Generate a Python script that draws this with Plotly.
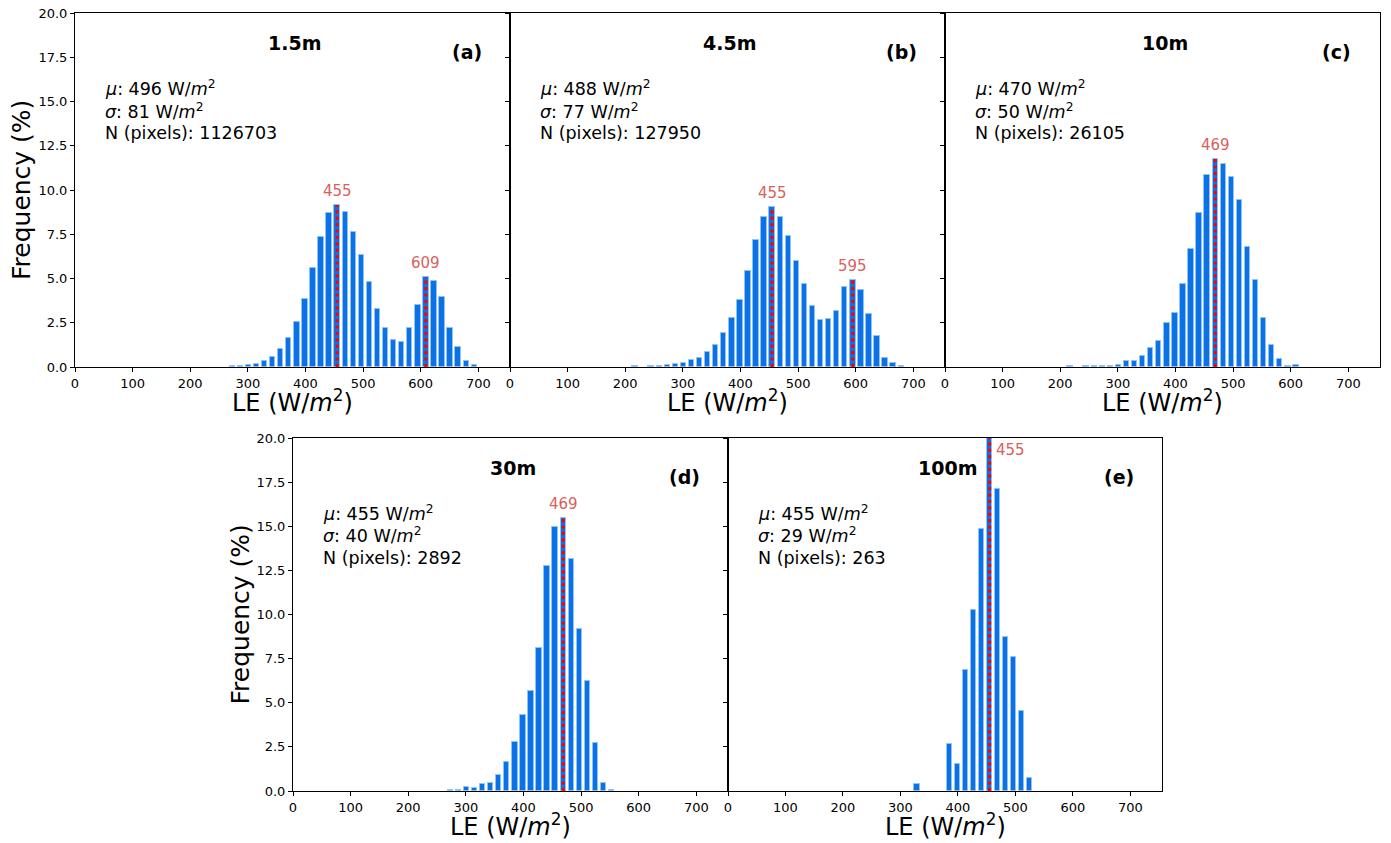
import plotly.graph_objects as go

# Histogram bins: 14 W/m2 wide, centred on 7 + 14k
centers_a = [273, 287, 301, 315, 329, 343, 357, 371, 385, 399, 413, 427, 441, 455, 469, 483,
             497, 511, 525, 539, 553, 567, 581, 595, 609, 623, 637, 651, 665, 679, 693]
freq_a = [0.03, 0.05, 0.10, 0.17, 0.32, 0.58, 1.00, 1.66, 2.52, 3.82, 5.61, 7.36, 8.70, 9.15, 8.78, 7.63,
          6.33, 4.80, 3.30, 2.19, 1.54, 1.43, 2.22, 3.48, 5.08, 4.86, 3.95, 2.22, 1.13, 0.34, 0.11]

centers_b = [217, 245, 259, 273, 287, 301, 315, 329, 343, 357, 371, 385, 399, 413, 427, 441, 455, 469,
             483, 497, 511, 525, 539, 553, 567, 581, 595, 609, 623, 637, 651, 665, 679]
freq_b = [0.03, 0.07, 0.05, 0.10, 0.15, 0.20, 0.38, 0.53, 0.87, 1.27, 1.94, 2.79, 3.76, 5.40, 7.18, 8.45, 9.02, 8.45,
          7.40, 5.99, 4.67, 3.46, 2.66, 2.69, 3.16, 4.53, 4.90, 4.37, 3.01, 1.77, 0.49, 0.25, 0.04]

centers_c = [217, 245, 259, 273, 287, 301, 315, 329, 343, 357, 371, 385, 399, 413, 427, 441, 455, 469,
             483, 497, 511, 525, 539, 553, 567, 581, 595, 609]
freq_c = [0.08, 0.05, 0.06, 0.07, 0.08, 0.10, 0.36, 0.36, 0.62, 1.07, 1.47, 2.50, 3.03, 4.67, 6.69, 8.70, 10.85, 11.77,
          11.45, 10.72, 9.42, 6.80, 4.90, 2.75, 1.22, 0.43, 0.06, 0.13]

centers_d = [273, 287, 301, 315, 329, 343, 357, 371, 385, 399, 413, 427, 441, 455, 469, 483, 497, 511, 525, 539, 553]
freq_d = [0.07, 0.03, 0.21, 0.17, 0.38, 0.48, 0.93, 1.63, 2.77, 4.32, 5.67, 8.09, 12.76, 14.97, 15.49, 13.14,
          9.20, 6.26, 2.70, 0.45, 0.07]

centers_e = [329, 385, 399, 413, 427, 441, 455, 469, 483, 497, 511, 525]
freq_e = [0.38, 2.66, 1.52, 6.84, 10.27, 14.83, 24.71, 17.11, 8.75, 7.60, 4.56, 0.76]

heights = ["1.5m", "4.5m", "10m", "30m", "100m"]
letters = ["(a)", "(b)", "(c)", "(d)", "(e)"]
mu = [496, 488, 470, 455, 455]
sigma = [81, 77, 50, 40, 29]
n_pixels = [1126703, 127950, 26105, 2892, 263]
peaks = [[455, 609], [455, 595], [469], [469], [455]]

y_ticks = [0, 2.5, 5, 7.5, 10, 12.5, 15, 17.5, 20]
x_ticks = [0, 100, 200, 300, 400, 500, 600, 700]

centers = [centers_a, centers_b, centers_c, centers_d, centers_e]
freqs = [freq_a, freq_b, freq_c, freq_d, freq_e]

W, H = 1391, 843
# panel boxes in pixels: left, right, top, bottom
boxes = [(75, 510, 13, 367), (510, 945, 13, 367), (945, 1380, 13, 367),
         (293, 728, 438, 791), (728, 1162, 438, 791)]

BAR = "#0a72e6"
EDGE = "#8fc2f5"
PEAK_TXT = "#d9605c"
FONT = "DejaVu Sans"

fig = go.Figure()
layout = {}
annotations = []

for i in range(5):
    sfx = "" if i == 0 else str(i + 1)
    xa, ya = "x" + sfx, "y" + sfx
    fig.add_trace(go.Bar(x=centers[i], y=freqs[i], width=9.4,
                         marker=dict(color=BAR, line=dict(color=EDGE, width=1)),
                         xaxis=xa, yaxis=ya, showlegend=False))
    for p in peaks[i]:
        h = freqs[i][centers[i].index(p)]
        fig.add_trace(go.Scatter(x=[p, p], y=[0, h], mode="lines",
                                 line=dict(color="red", width=3.2, dash="dot"),
                                 xaxis=xa, yaxis=ya, showlegend=False))
        if h < 20:
            annotations.append(dict(x=p, y=h, xref=xa, yref=ya, text=str(p), showarrow=False,
                                    yanchor="bottom", yshift=3,
                                    font=dict(family=FONT, size=15, color=PEAK_TXT)))
        else:
            annotations.append(dict(x=p + 7, y=19.3, xref=xa, yref=ya, text=str(p), showarrow=False,
                                    xanchor="left", yanchor="middle",
                                    font=dict(family=FONT, size=15, color=PEAK_TXT)))

    l, r, t, b = boxes[i]
    show_labels = i in (0, 3)
    layout["xaxis" + sfx] = dict(
        domain=[l / W, r / W], anchor=ya, range=[0, 755], automargin=False,
        tickmode="array", tickvals=x_ticks, ticks="outside", ticklen=4, tickcolor="black",
        showline=True, linecolor="black", linewidth=1, mirror=True, showgrid=False, zeroline=False,
        tickfont=dict(family=FONT, size=13, color="black"),
    )
    layout["yaxis" + sfx] = dict(
        domain=[1 - b / H, 1 - t / H], anchor=xa, range=[0, 20], automargin=False,
        tickmode="array", tickvals=y_ticks, ticktext=[f"{v:.1f}" for v in y_ticks],
        showticklabels=show_labels, ticks="outside", ticklen=4, tickcolor="black",
        showline=True, linecolor="black", linewidth=1, mirror=True, showgrid=False, zeroline=False,
        tickfont=dict(family=FONT, size=13, color="black"),
    )

    # axis titles
    annotations.append(dict(x=(l + r) / 2 / W, y=1 - (b + 34) / H, xref="paper", yref="paper",
                            text="LE (W/<i>m</i><sup>2</sup>)", showarrow=False,
                            xanchor="center", yanchor="middle",
                            font=dict(family=FONT, size=24, color="black")))
    if show_labels:
        annotations.append(dict(x=(l - 53) / W, y=1 - (t + b) / 2 / H, xref="paper", yref="paper",
                                text="Frequency (%)", showarrow=False, textangle=-90,
                                xanchor="center", yanchor="middle",
                                font=dict(family=FONT, size=25, color="black")))

    # panel headings
    annotations.append(dict(x=381, y=18.3, xref=xa, yref=ya, text=f"<b>{heights[i]}</b>", showarrow=False,
                            font=dict(family=FONT, size=19, color="black")))
    annotations.append(dict(x=680, y=17.8, xref=xa, yref=ya, text=f"<b>{letters[i]}</b>", showarrow=False,
                            font=dict(family=FONT, size=19, color="black")))
    # statistics block
    stats = [f"<i>μ</i>: {mu[i]} W/<i>m</i><sup>2</sup>",
             f"<i>σ</i>: {sigma[i]} W/<i>m</i><sup>2</sup>",
             f"N (pixels): {n_pixels[i]}"]
    for k, line in enumerate(stats):
        annotations.append(dict(x=49, y=15.75 - k * 1.27, xref=xa, yref=ya, text=line, showarrow=False,
                                xanchor="left", yanchor="middle",
                                font=dict(family=FONT, size=17.5, color="black")))

fig.update_layout(
    **layout,
    annotations=annotations,
    width=W, height=H,
    margin=dict(l=0, r=0, t=0, b=0, autoexpand=False),
    paper_bgcolor="white", plot_bgcolor="white",
    bargap=0, showlegend=False,
)

fig.write_html("out.html")
